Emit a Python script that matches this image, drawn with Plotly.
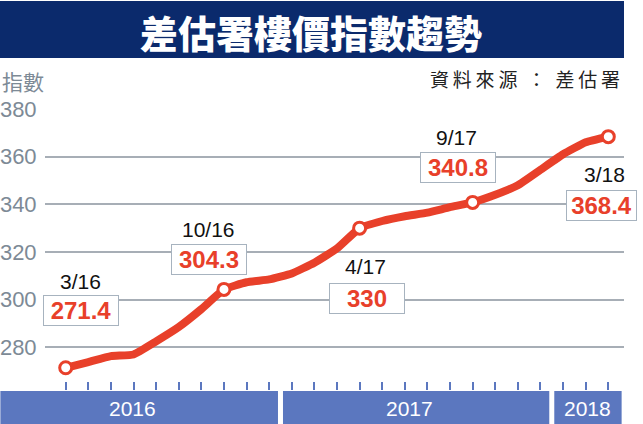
import plotly.graph_objects as go

# ---- data ----
months = ["3/16", "4/16", "5/16", "6/16", "7/16", "8/16", "9/16", "10/16", "11/16", "12/16",
          "1/17", "2/17", "3/17", "4/17", "5/17", "6/17", "7/17", "8/17", "9/17", "10/17",
          "11/17", "12/17", "1/18", "2/18", "3/18"]
index_values = [271.4, 273.8, 276.3, 277.0, 282.5, 288.5, 296.0, 304.3, 307.3, 308.5,
                311.0, 315.5, 321.5, 330.0, 333.0, 335.0, 336.5, 338.8, 340.8, 344.0,
                348.0, 354.5, 361.0, 366.0, 368.4]
highlight_months = ["3/16", "10/16", "4/17", "9/17", "3/18"]
highlight_labels = ["271.4", "304.3", "330", "340.8", "368.4"]
years = ["2016", "2017", "2018"]
year_bounds = [(-3.0, 9.5), (9.5, 21.5), (21.5, 24.7)]
y_ticks = [280, 300, 320, 340, 360, 380]

title_text = "差估署樓價指數趨勢"
source_text = "資\u2009料\u2009來\u2009源\u2002：\u2002差\u2009估\u2009署"
y_label = "指數"

# ---- layout geometry ----
W, H = 643, 424
ML, MR, MT, MB = 45, 19, 109, 34
PW, PH = W - ML - MR, H - MT - MB
XMIN, XMAX = -0.916, -0.916 + PW / 22.608
YMAX = 380
YMIN = 380 - PH / 2.383

RED = "#e8402a"
NAVY = "#0b2a6c"
BLUE = "#5b77bf"
GRAY = "#7d8a96"

x_idx = list(range(len(months)))


def px_x(p):  # pixel x -> paper
    return (p - ML) / PW


def px_y(p):  # pixel y -> paper
    return (H - MB - p) / PH


def data_x_paper(x):
    return (x - XMIN) / (XMAX - XMIN)


fig = go.Figure()
fig.add_trace(go.Scatter(
    x=x_idx, y=index_values, mode="lines",
    line=dict(color=RED, width=8, shape="spline", smoothing=0.4),
    hoverinfo="skip", showlegend=False))

hi_x = [months.index(m) for m in highlight_months]
hi_y = [index_values[i] for i in hi_x]
fig.add_trace(go.Scatter(
    x=hi_x, y=hi_y, mode="markers",
    marker=dict(size=12, color="white", line=dict(color=RED, width=3)),
    hoverinfo="skip", showlegend=False))

# label offsets (pixels) relative to each highlighted point
box_shift = [(15, 57), (-15, 30), (7, -70), (-15, 35), (-7, -69)]
date_shift = [(15, 86), (-15, 60), (6, -38), (-16, 65), (-4, -38)]
box_w = [72, 72, 72, 72, 67]

annotations = []
for k in range(len(hi_x)):
    annotations.append(dict(
        x=hi_x[k], y=hi_y[k], xref="x", yref="y", xanchor="center", yanchor="middle",
        text=highlight_months[k], showarrow=False,
        xshift=date_shift[k][0], yshift=date_shift[k][1],
        font=dict(family="Liberation Sans, Arial, sans-serif", size=21, color="#111111")))
    annotations.append(dict(
        x=hi_x[k], y=hi_y[k], xref="x", yref="y", xanchor="center", yanchor="middle",
        text="<b>" + highlight_labels[k] + "</b>", showarrow=False,
        xshift=box_shift[k][0], yshift=box_shift[k][1],
        width=box_w[k], height=27, borderpad=1, borderwidth=1,
        bordercolor="#a7b3bf", bgcolor="white",
        font=dict(family="Liberation Sans Narrow, Liberation Sans, Arial, sans-serif",
                  size=24, color=RED)))

shapes = []
# title bar
shapes.append(dict(type="rect", xref="paper", yref="paper",
                   x0=px_x(0), x1=px_x(624), y0=px_y(58), y1=px_y(1),
                   fillcolor=NAVY, line=dict(width=0), layer="below"))
annotations.append(dict(x=px_x(311), y=px_y(31), xref="paper", yref="paper",
                        xanchor="center", yanchor="middle",
                        text=title_text, showarrow=False,
                        font=dict(family="Noto Sans CJK TC", size=38, color="white", weight=900)))
annotations.append(dict(x=px_x(622), y=px_y(79), xref="paper", yref="paper",
                        xanchor="right", yanchor="middle",
                        text=source_text, showarrow=False,
                        font=dict(family="Noto Sans CJK TC", size=19, color="#222222")))
annotations.append(dict(x=px_x(0), y=px_y(81), xref="paper", yref="paper",
                        xanchor="left", yanchor="middle",
                        text=y_label, showarrow=False,
                        font=dict(family="Noto Sans CJK TC", size=21, color=GRAY)))

# year bars
gap = 2.5 / 22.608
year_text_px = [132, 410, 587]
for yr, (a, b), tx in zip(years, year_bounds, year_text_px):
    shapes.append(dict(type="rect", xref="paper", yref="paper",
                       x0=max(data_x_paper(a + gap), px_x(0)),
                       x1=min(data_x_paper(b - gap), px_x(624)),
                       y0=px_y(424), y1=px_y(391),
                       fillcolor=BLUE, line=dict(width=0)))
    annotations.append(dict(x=px_x(tx), y=px_y(408), xref="paper", yref="paper",
                            xanchor="center", yanchor="middle",
                            text=yr, showarrow=False,
                            font=dict(family="Liberation Sans, Arial, sans-serif", size=21, color="white")))

fig.update_layout(
    width=W, height=H,
    margin=dict(l=ML, r=MR, t=MT, b=MB, autoexpand=False),
    paper_bgcolor="white", plot_bgcolor="white",
    shapes=shapes, annotations=annotations,
    xaxis=dict(range=[XMIN, XMAX], showgrid=False, zeroline=False, showline=False,
               tickvals=x_idx, showticklabels=False, automargin=False,
               ticks="inside", ticklen=8, tickwidth=2, tickcolor=BLUE, fixedrange=True),
    yaxis=dict(range=[YMIN, YMAX], tickvals=y_ticks, showgrid=True, automargin=False,
               gridcolor="#a7aeb6", gridwidth=1.5, zeroline=False, showline=False,
               ticks="outside", ticklen=3, tickcolor="rgba(0,0,0,0)",
               tickfont=dict(family="Liberation Sans, Arial, sans-serif", size=22, color=GRAY),
               fixedrange=True),
)

fig.write_html("out.html", config={"displayModeBar": False},
               post_script="document.body.style.margin='0px';")
